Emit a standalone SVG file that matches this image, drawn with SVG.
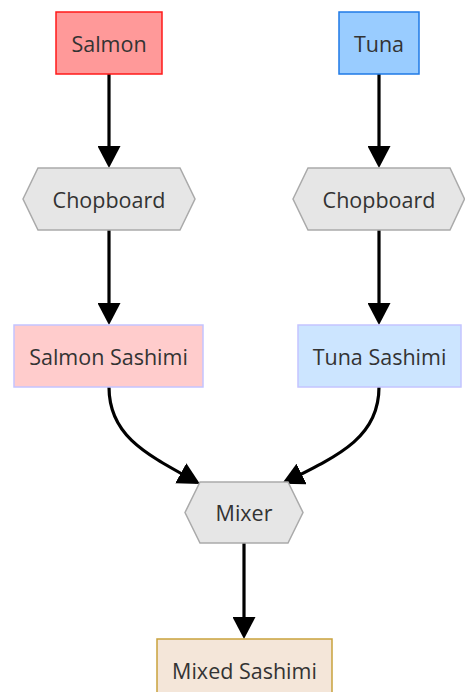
<svg xmlns="http://www.w3.org/2000/svg" width="465" height="692" viewBox="0 0 465 692">
  <defs>
    <marker id="arrow" viewBox="0 0 22 23" refX="18" refY="11.5" markerWidth="22" markerHeight="23" markerUnits="userSpaceOnUse" orient="auto">
      <path d="M0,0 L22,11.5 L0,23 z" fill="#000"/>
    </marker>
    <style>
      .lbl { font-family: "Open Sans", "Noto Sans", "DejaVu Sans", sans-serif; font-size: 21.5px; fill: #333; text-anchor: middle; dominant-baseline: central; }
      .edge { fill: none; stroke: #000; stroke-width: 3.2; marker-end: url(#arrow); }
      .hex { fill: #e6e6e6; stroke: #aaaaaa; stroke-width: 1.5; }
    </style>
  </defs>
  <rect width="465" height="692" fill="#fff"/>

  <g id="edges">
    <path class="edge" d="M109,74 V164"/>
    <path class="edge" d="M379,74 V164"/>
    <path class="edge" d="M109,230 V321"/>
    <path class="edge" d="M379,230 V321"/>
    <path class="edge" d="M109,387 C109,436 146,454 196.5,482"/>
    <path class="edge" d="M379,387 C379,436 342,454 285.5,482"/>
    <path class="edge" d="M244,543 V635"/>
  </g>

  <g id="salmon">
    <rect x="56" y="12" width="106" height="62" fill="#ff9999" stroke="#ff1a1a" stroke-width="1.5"/>
    <text class="lbl" x="109" y="43">Salmon</text>
  </g>
  <g id="tuna">
    <rect x="339" y="12" width="80" height="62" fill="#99ccff" stroke="#1f7ae6" stroke-width="1.5"/>
    <text class="lbl" x="379" y="43">Tuna</text>
  </g>
  <g id="chopboard-salmon">
    <polygon class="hex" points="23,199 38,168 180,168 195,199 180,230 38,230"/>
    <text class="lbl" x="109" y="199">Chopboard</text>
  </g>
  <g id="chopboard-tuna">
    <polygon class="hex" points="293,199 308,168 450,168 464.5,199 450,230 308,230"/>
    <text class="lbl" x="379" y="199">Chopboard</text>
  </g>
  <g id="salmon-sashimi">
    <rect x="14" y="325" width="189" height="62" fill="#ffcccc" stroke="#c4c4ff" stroke-width="1.5"/>
    <text class="lbl" x="108.5" y="356">Salmon Sashimi</text>
  </g>
  <g id="tuna-sashimi">
    <rect x="298" y="325" width="163" height="62" fill="#cce5ff" stroke="#c4c4ff" stroke-width="1.5"/>
    <text class="lbl" x="379.5" y="356">Tuna Sashimi</text>
  </g>
  <g id="mixer">
    <polygon class="hex" points="185,512.5 200,482 288,482 303,512.5 288,543 200,543"/>
    <text class="lbl" x="244" y="512.5">Mixer</text>
  </g>
  <g id="mixed-sashimi">
    <rect x="157" y="639" width="175" height="62" fill="#f4e6d9" stroke="#c9a23c" stroke-width="1.5"/>
    <text class="lbl" x="244.5" y="670">Mixed Sashimi</text>
  </g>
</svg>
